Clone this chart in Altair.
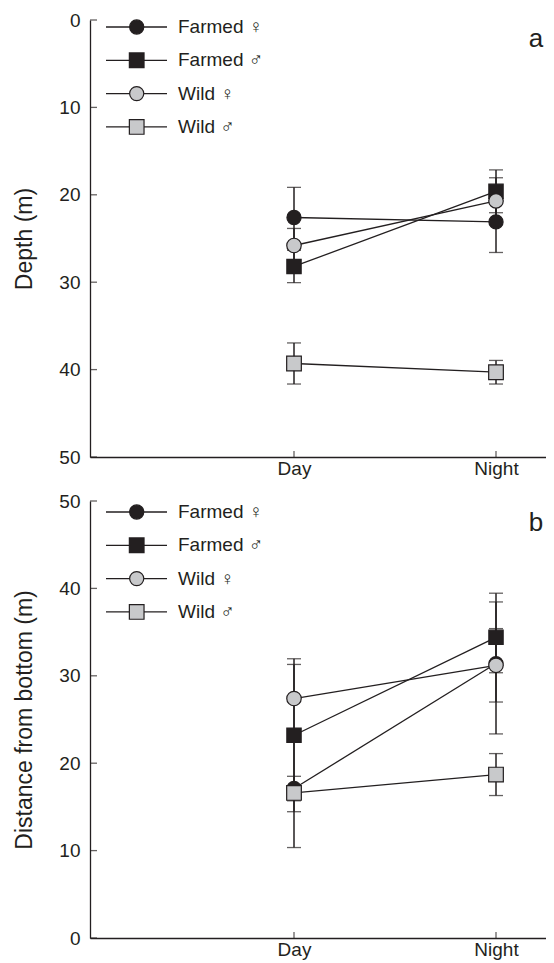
import altair as alt
import pandas as pd

# ---------------- data ----------------
periods = ["Day", "Night"]
groups = ["Farmed ♀", "Farmed ♂", "Wild ♀", "Wild ♂"]

# Panel a: depth (m), mean and error per period [Day, Night]
depth_farmed_f = [22.6, 23.1]
depth_farmed_f_err = [3.45, 3.5]
depth_farmed_m = [28.2, 19.6]
depth_farmed_m_err = [1.85, 2.45]
depth_wild_f = [25.8, 20.7]
depth_wild_f_err = [1.95, 2.65]
depth_wild_m = [39.3, 40.3]
depth_wild_m_err = [2.35, 1.35]

# Panel b: distance from bottom (m)
dist_farmed_f = [17.1, 31.4]
dist_farmed_f_err = [1.4, 8.05]
dist_farmed_m = [23.2, 34.4]
dist_farmed_m_err = [8.75, 4.05]
dist_wild_f = [27.4, 31.2]
dist_wild_f_err = [3.9, 4.2]
dist_wild_m = [16.6, 18.7]
dist_wild_m_err = [6.25, 2.4]

y_ticks = [0, 10, 20, 30, 40, 50]

# ---------------- style ----------------
DARK = "#231f20"
GREY = "#c8c9cb"
FONT = "Liberation Sans"
W = 456
H = 437
shapes = ["circle", "square", "circle", "square"]
fills = [DARK, DARK, GREY, GREY]
sizes = [200, 215, 200, 215]


def make_df(means, errs):
    rows = []
    for g, m, e in zip(groups, means, errs):
        for i, p in enumerate(periods):
            rows.append({"group": g, "period": p, "x": i + 1,
                         "mean": m[i], "lo": m[i] - e[i], "hi": m[i] + e[i]})
    return pd.DataFrame(rows)


df_a = make_df([depth_farmed_f, depth_farmed_m, depth_wild_f, depth_wild_m],
               [depth_farmed_f_err, depth_farmed_m_err, depth_wild_f_err, depth_wild_m_err])
df_b = make_df([dist_farmed_f, dist_farmed_m, dist_wild_f, dist_wild_m],
               [dist_farmed_f_err, dist_farmed_m_err, dist_wild_f_err, dist_wild_m_err])

label_expr = "[" + ",".join("'%s'" % p for p in periods) + "][datum.value - 1]"

x_enc = alt.X(
    "x:Q",
    scale=alt.Scale(domain=[-0.0099, 2.2475], nice=False, zero=False),
    axis=alt.Axis(values=[1, 2], labelExpr=label_expr, ticks=False, labelPadding=2,
                  title=None, grid=False, domainColor=DARK, domainWidth=1.3,
                  labelFont=FONT, labelFontSize=19, labelColor=DARK),
)


def panel(df, ytitle, reverse, letter, letter_y, legend_top):
    yscale = alt.Scale(domain=[0, 50], nice=False, zero=False, reverse=reverse)
    yaxis = alt.Axis(values=y_ticks, ticks=False, labelPadding=10, grid=False,
                     domainColor=DARK, domainWidth=1.3, labelFont=FONT,
                     labelFontSize=19, labelColor=DARK, title=ytitle,
                     titleFont=FONT, titleFontSize=23, titleFontWeight="normal",
                     titleColor=DARK, titlePadding=22)

    def y(field):
        return alt.Y(field, type="quantitative", scale=yscale, axis=yaxis, title=ytitle)

    base = alt.Chart(df)
    lines = base.mark_line(color=DARK, strokeWidth=1.3).encode(
        x=x_enc, y=y("mean"), detail="group:N")
    bars = base.mark_rule(color=DARK, strokeWidth=1.5).encode(
        x=x_enc, y=y("lo"), y2="hi")
    cap_lo = base.mark_tick(orient="horizontal", size=14, thickness=1.3, color=DARK).encode(
        x=x_enc, y=y("lo"))
    cap_hi = base.mark_tick(orient="horizontal", size=14, thickness=1.3, color=DARK).encode(
        x=x_enc, y=y("hi"))
    pts = base.mark_point(filled=True, opacity=1, stroke=DARK, strokeWidth=1.2).encode(
        x=x_enc, y=y("mean"),
        shape=alt.Shape("group:N", scale=alt.Scale(domain=groups, range=shapes), legend=None),
        fill=alt.Fill("group:N", scale=alt.Scale(domain=groups, range=fills), legend=None),
        size=alt.Size("group:N", scale=alt.Scale(domain=groups, range=sizes), legend=None),
    )
    yt = alt.Chart(pd.DataFrame({"mean": y_ticks})).mark_tick(
        orient="horizontal", size=7, thickness=1.3, color=DARK).encode(
        y=y("mean"), x=alt.value(3.5))
    xt = alt.Chart(pd.DataFrame({"x": [1, 2]})).mark_tick(
        orient="vertical", size=6, thickness=1.3, color=DARK).encode(
        x=x_enc, y=alt.value(H - 3))

    one = pd.DataFrame({"k": [0]})
    legend_layers = []
    for i, g in enumerate(groups):
        yy = legend_top + i * 33.3
        legend_layers.append(alt.Chart(one).mark_rule(color=DARK, strokeWidth=1.3).encode(
            x=alt.value(16), x2=alt.value(77), y=alt.value(yy)))
        legend_layers.append(alt.Chart(one).mark_point(
            filled=True, opacity=1, shape=shapes[i], size=sizes[i], fill=fills[i],
            stroke=DARK, strokeWidth=1.2).encode(x=alt.value(46.7), y=alt.value(yy)))
        legend_layers.append(alt.Chart(one).mark_text(
            align="left", baseline="middle", font=FONT, fontSize=19, color=DARK).encode(
            x=alt.value(88), y=alt.value(yy), text=alt.value(g)))

    letter_mark = alt.Chart(one).mark_text(
        align="center", baseline="alphabetic", font=FONT, fontSize=26, color=DARK).encode(
        x=alt.value(446), y=alt.value(letter_y), text=alt.value(letter))

    return alt.layer(yt, xt, lines, bars, cap_lo, cap_hi, pts, letter_mark,
                     *legend_layers).properties(width=W, height=H)


top = panel(df_a, "Depth (m)", True, "a", 27, 7.0)
bottom = panel(df_b, "Distance from bottom (m)", False, "b", 30, 11.0)

chart = alt.vconcat(top, bottom, spacing=14).properties(
    padding={"left": 5, "top": 3, "right": 0, "bottom": 3}
).configure_view(stroke=None)

chart.save("out.html", embed_options={"renderer": "svg", "actions": False})
